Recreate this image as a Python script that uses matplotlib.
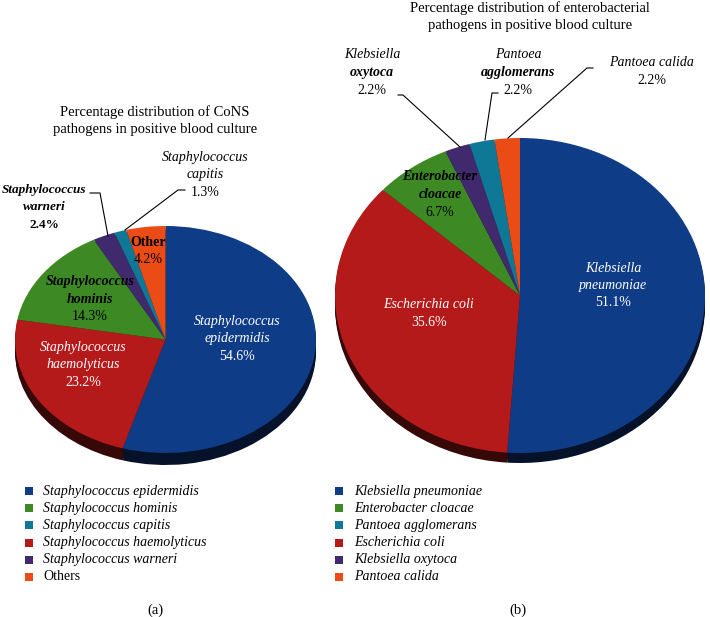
import matplotlib.pyplot as plt
import matplotlib.colors as mcolors
import numpy as np

# Data: CoNS pathogens (a)
cons_names = ["Staphylococcus epidermidis", "Staphylococcus haemolyticus",
              "Staphylococcus hominis", "Staphylococcus warneri",
              "Staphylococcus capitis", "Others"]
cons_values = [54.6, 23.2, 14.3, 2.4, 1.3, 4.2]
cons_colors = ["#0F3C87", "#B51A1B", "#3D8A24", "#41296E", "#0F7896", "#EB4B14"]
cons_legend_order = [0, 2, 4, 1, 3, 5]

# Data: enterobacterial pathogens (b)
ent_names = ["Klebsiella pneumoniae", "Escherichia coli", "Enterobacter cloacae",
             "Klebsiella oxytoca", "Pantoea agglomerans", "Pantoea calida"]
ent_values = [51.1, 35.6, 6.7, 2.2, 2.2, 2.2]
ent_colors = ["#0F3C87", "#B51A1B", "#3D8A24", "#41296E", "#0F7896", "#EB4B14"]
ent_legend_order = [0, 2, 4, 1, 3, 5]

W, H = 710, 617
SERIF = "Liberation Serif"
plt.rcParams['font.family'] = [SERIF, 'DejaVu Serif']

fig = plt.figure(figsize=(W / 100, H / 100), dpi=100)


def darker(c, f=0.3):
    r, g, b = mcolors.to_rgb(c)
    return (r * f, g * f, b * f)


def pie3d(x0, x1, ytop, ybot, depth, values, colors):
    """Tilted pie: ellipse drawn in an axes with free aspect plus a dark rim."""
    ry = (ybot - ytop) / 2
    d = depth / ry
    hpx = ybot - ytop + depth
    ax = fig.add_axes([x0 / W, 1 - (ytop + hpx) / H, (x1 - x0) / W, hpx / H])
    # side (depth) layers
    for k in np.linspace(d, 0, 6)[:-1]:
        ax.pie(values, colors=[darker(c) for c in colors], startangle=90,
               counterclock=False, radius=1, center=(0, -k), frame=True)
    ax.pie(values, colors=colors, startangle=90, counterclock=False,
           radius=1, center=(0, 0), frame=True)
    ax.set_aspect('auto')
    ax.set_xlim(-1, 1)
    ax.set_ylim(-1 - d, 1)
    ax.axis('off')
    return ax


pie3d(15, 316, 226, 453, 12, cons_values, cons_colors)
pie3d(335, 705, 138, 453, 10, ent_values, ent_colors)

# overlay axes in pixel coordinates for text and leader lines
ov = fig.add_axes([0, 0, 1, 1], zorder=5)
ov.set_xlim(0, W)
ov.set_ylim(H, 0)
ov.axis('off')

FS = 10
LS = 17.5


def lines_at(x, y0, lines, color="black", fs=FS):
    for i, (txt, style, weight) in enumerate(lines):
        ov.text(x, y0 + i * LS, txt, ha='center', va='center', color=color,
                fontsize=fs, style=style, fontweight=weight)


# titles
lines_at(155, 112, [("Percentage distribution of CoNS", "normal", "normal"),
                    ("pathogens in positive blood culture", "normal", "normal")], fs=10.5)
lines_at(530, 8, [("Percentage distribution of enterobacterial", "normal", "normal"),
                  ("pathogens in positive blood culture", "normal", "normal")], fs=10.5)

# labels (a)
lines_at(237, 321, [("Staphylococcus", "italic", "normal"), ("epidermidis", "italic", "normal"),
                    (f"{cons_values[0]}%", "normal", "normal")], color="white")
lines_at(83, 347, [("Staphylococcus", "italic", "normal"), ("haemolyticus", "italic", "normal"),
                   (f"{cons_values[1]}%", "normal", "normal")], color="white")
lines_at(90, 282, [("Staphylococcus", "italic", "bold"), ("hominis", "italic", "bold"),
                   (f"{cons_values[2]}%", "normal", "normal")])
lines_at(44, 190, [("Staphylococcus", "italic", "bold"), ("warneri", "italic", "bold"),
                   (f"{cons_values[3]}%", "normal", "bold")], fs=9.5)
lines_at(205, 157, [("Staphylococcus", "italic", "normal"), ("capitis", "italic", "normal"),
                    (f"{cons_values[4]}%", "normal", "normal")])
lines_at(148, 242, [("Other", "normal", "bold"), (f"{cons_values[5]}%", "normal", "normal")])
ov.plot([90, 100, 108], [193, 193, 236], color="black", lw=0.8)
ov.plot([185, 178, 125], [190, 190, 230], color="black", lw=0.8)

# labels (b)
lines_at(613, 268, [("Klebsiella", "italic", "normal"), ("pneumoniae", "italic", "normal"),
                    (f"{ent_values[0]}%", "normal", "normal")], color="white")
lines_at(429, 305, [("Escherichia coli", "italic", "normal"),
                    (f"{ent_values[1]}%", "normal", "normal")], color="white")
lines_at(440, 177, [("Enterobacter", "italic", "bold"), ("cloacae", "italic", "bold"),
                    (f"{ent_values[2]}%", "normal", "normal")])
lines_at(372, 55, [("Klebsiella", "italic", "normal"), ("oxytoca", "italic", "bold"),
                   (f"{ent_values[3]}%", "normal", "normal")])
lines_at(518, 55, [("Pantoea", "italic", "normal"), ("agglomerans", "italic", "bold"),
                   (f"{ent_values[4]}%", "normal", "normal")])
lines_at(652, 63, [("Pantoea calida", "italic", "normal"),
                   (f"{ent_values[5]}%", "normal", "normal")])
ov.plot([398, 403, 460], [95, 95, 147], color="black", lw=0.8)
ov.plot([498, 492, 485], [93, 93, 140], color="black", lw=0.8)
ov.plot([593, 587, 508], [68, 68, 138], color="black", lw=0.8)


# legends
def legend_at(xsq, xtxt, names, colors, order):
    for row, i in enumerate(order):
        y = 491 + row * 17.2
        ov.add_patch(plt.Rectangle((xsq - 4, y - 4), 8, 8, color=colors[i], lw=0))
        style = "normal" if names[i] == "Others" else "italic"
        ov.text(xtxt, y, names[i], ha='left', va='center', fontsize=FS, style=style)


legend_at(29, 43, cons_names, cons_colors, cons_legend_order)
legend_at(339, 354, ent_names, ent_colors, ent_legend_order)

ov.text(155, 610, "(a)", ha='center', va='center', fontsize=FS + 0.5)
ov.text(518, 610, "(b)", ha='center', va='center', fontsize=FS + 0.5)

fig.savefig("out.png", dpi=100)
